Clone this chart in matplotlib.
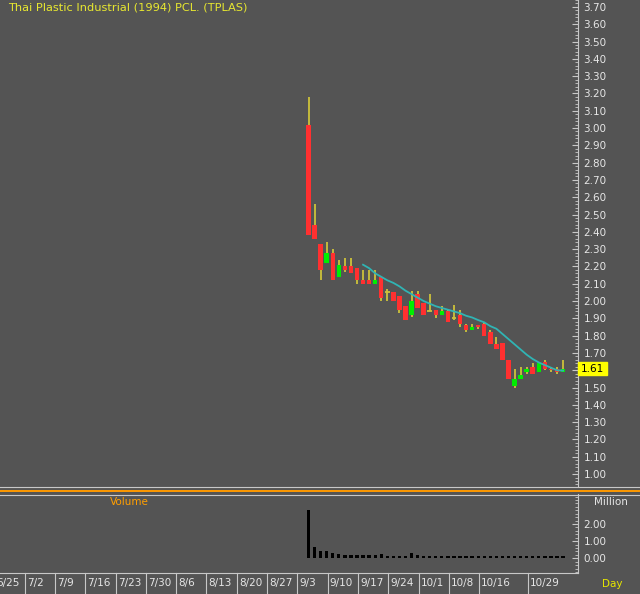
import numpy as np
import pandas as pd
import matplotlib
matplotlib.use("Agg")
import matplotlib.pyplot as plt
import matplotlib.transforms as mtransforms
from matplotlib.ticker import MultipleLocator, FormatStrFormatter
from matplotlib.lines import Line2D
from matplotlib.patches import Rectangle

# Data (TPLAS daily, price in Baht, volume in million shares)
title = "Thai Plastic Industrial (1994) PCL. (TPLAS)"
first_day = "2018-09-04"
holidays = ["2018-10-15", "2018-10-23"]

opens = [3.02, 2.44, 2.33, 2.22, 2.28, 2.14, 2.20, 2.20, 2.19, 2.12,
         2.12, 2.10, 2.14, 2.05, 2.05, 2.03, 1.97, 1.92, 2.04, 1.99,
         1.94, 1.95, 1.92, 1.94, 1.90, 1.92, 1.86, 1.83, 1.86, 1.87,
         1.82, 1.75, 1.76, 1.66, 1.51, 1.55, 1.59, 1.62, 1.59, 1.65,
         1.61, 1.61, 1.59]
highs = [3.18, 2.56, 2.33, 2.34, 2.30, 2.24, 2.25, 2.25, 2.19, 2.18,
         2.18, 2.18, 2.14, 2.07, 2.05, 2.03, 1.97, 2.06, 2.06, 1.99,
         2.04, 1.95, 1.97, 1.95, 1.98, 1.95, 1.87, 1.87, 1.86, 1.88,
         1.83, 1.79, 1.76, 1.66, 1.61, 1.62, 1.62, 1.64, 1.65, 1.66,
         1.62, 1.62, 1.66]
lows = [2.38, 2.36, 2.12, 2.22, 2.12, 2.14, 2.17, 2.16, 2.10, 2.10,
        2.10, 2.10, 2.00, 2.00, 2.00, 1.93, 1.89, 1.91, 1.96, 1.92,
        1.94, 1.90, 1.92, 1.88, 1.89, 1.85, 1.82, 1.83, 1.84, 1.80,
        1.75, 1.72, 1.66, 1.55, 1.50, 1.55, 1.58, 1.58, 1.59, 1.60,
        1.59, 1.58, 1.59]
closes = [2.38, 2.36, 2.18, 2.28, 2.12, 2.21, 2.18, 2.16, 2.12, 2.10,
          2.10, 2.12, 2.02, 2.05, 2.00, 1.95, 1.89, 2.00, 1.96, 1.92,
          1.94, 1.92, 1.94, 1.88, 1.90, 1.87, 1.83, 1.85, 1.85, 1.80,
          1.75, 1.72, 1.66, 1.55, 1.55, 1.57, 1.61, 1.58, 1.64, 1.61,
          1.60, 1.59, 1.61]
volume = [2.82, 0.68, 0.44, 0.44, 0.29, 0.25, 0.19, 0.22, 0.19, 0.19,
          0.19, 0.22, 0.25, 0.15, 0.13, 0.13, 0.13, 0.30, 0.20, 0.13,
          0.13, 0.12, 0.12, 0.12, 0.11, 0.13, 0.12, 0.11, 0.11, 0.12,
          0.12, 0.12, 0.12, 0.13, 0.12, 0.11, 0.11, 0.11, 0.11, 0.11,
          0.11, 0.11, 0.11]
# moving average line, starts at the 10th session
ma_line = [2.21, 2.19, 2.16, 2.14, 2.12, 2.105, 2.085, 2.06, 2.04, 2.02,
           2.00, 1.985, 1.97, 1.96, 1.95, 1.94, 1.93, 1.915, 1.905, 1.89,
           1.877, 1.855, 1.84, 1.81, 1.78, 1.75, 1.72, 1.69, 1.665, 1.645,
           1.63, 1.615, 1.60, 1.598]
last_price = "1.61"
week_labels = ["6/25", "7/2", "7/9", "7/16", "7/23", "7/30", "8/6", "8/13",
               "8/20", "8/27", "9/3", "9/10", "9/17", "9/24", "10/1", "10/8",
               "10/16", "10/29"]

BG = "#545454"
FG = "#e6e6e6"
LINE = "#c8c8c8"
UP = "#00ee00"
DOWN = "#ff3030"
WICK = "#cdc23a"

# trading slot calendar (weekdays, minus holidays after listing)
days = pd.bdate_range("2018-06-25", "2018-11-09")
days = days[~days.isin(pd.to_datetime(holidays))]
slot = {d: i for i, d in enumerate(days)}
start = slot[pd.Timestamp(first_day)]
x = np.arange(start, start + len(opens))
o, h, l, c = map(np.array, (opens, highs, lows, closes))

W, H = 640, 594
fig = plt.figure(figsize=(W / 100, H / 100), dpi=100, facecolor=BG)
ax = fig.add_axes([0, 1 - 486 / H, 578 / W, 486 / H], facecolor=BG)
axv = fig.add_axes([0, 1 - 573 / H, 578 / W, 79 / H], facecolor=BG, sharex=ax)

# candles
ax.vlines(x, l, h, color=WICK, lw=1.3, zorder=2)
up = c > o
down = c < o
ax.bar(x[up], (c - o)[up], bottom=o[up], width=0.74, color=UP, zorder=3)
ax.bar(x[down], (o - c)[down], bottom=c[down], width=0.74, color=DOWN, zorder=3)
doji = c == o
ax.hlines(c[doji], x[doji] - 0.37, x[doji] + 0.37, color=WICK, lw=1.3, zorder=3)
ax.plot(x[len(x) - len(ma_line):], ma_line, color="#30b4b4", lw=1.3, zorder=4)

ax.set_xlim(0.09, 95.47)
ax.set_ylim(0.931, 3.74)
ax.set_yticks(np.arange(1.0, 3.705, 0.1))
ax.yaxis.set_minor_locator(MultipleLocator(0.02))
ax.yaxis.set_major_formatter(FormatStrFormatter("%.2f"))

# last price tag
tr = mtransforms.blended_transform_factory(ax.transAxes, ax.transData)
ax.add_patch(Rectangle((1.0, float(last_price) - 0.035), 29 / 578, 0.07,
                       transform=tr, color="#ffff00", clip_on=False, zorder=5))
ax.text(1.0 + 14.5 / 578, float(last_price), last_price, transform=tr,
        ha="center", va="center", fontsize=7.5, color="black", zorder=6)

ax.text(8 / 578, 1 - 7 / 486, title, transform=ax.transAxes, ha="left",
        va="center", fontsize=8.2, color="#e8e830")

# volume
axv.bar(x, volume, width=0.55, color="black")
axv.set_ylim(-0.857, 3.75)
axv.set_yticks([0, 1, 2])
axv.yaxis.set_minor_locator(MultipleLocator(0.2))
axv.yaxis.set_major_formatter(FormatStrFormatter("%.2f"))
axv.text(129 / 578, 1 - 8 / 79, "Volume", transform=axv.transAxes,
         ha="center", va="center", fontsize=7.5, color="#ff9e00")

for a in (ax, axv):
    a.yaxis.tick_right()
    for s in ("left", "top", "bottom"):
        a.spines[s].set_visible(False)
    a.spines["right"].set_color(LINE)
    a.tick_params(axis="y", which="both", direction="in", colors=LINE,
                  labelcolor=FG, labelsize=7.5, pad=4)
    a.tick_params(axis="y", which="major", length=4)
    a.tick_params(axis="y", which="minor", length=2)
    a.tick_params(axis="x", which="both", bottom=False, labelbottom=False)
axv.spines["bottom"].set_visible(True)
axv.spines["bottom"].set_color(LINE)

# week separators and date labels
trv = mtransforms.blended_transform_factory(axv.transData, axv.transAxes)
for lab in week_labels:
    m, d = map(int, lab.split("/"))
    sx = slot[pd.Timestamp(2018, m, d)] - 0.85
    axv.plot([sx, sx], [0, -0.3], transform=trv, color=LINE, lw=0.8,
             clip_on=False)
    axv.text(sx + 0.35, -10 / 79, lab, transform=trv, ha="left", va="center",
             fontsize=7.5, color=FG, clip_on=False)

# panel divider lines
for yy, col, lw in ((486.5, LINE, 0.8), (490.5, "#ff9900", 1.4), (494.5, LINE, 0.8)):
    fig.add_artist(Line2D([0, 1], [1 - yy / H, 1 - yy / H],
                          transform=fig.transFigure, color=col, lw=lw))

fig.text(611 / W, 1 - 502 / H, "Million", ha="center", va="center",
         fontsize=7.5, color=FG)
fig.text(612 / W, 1 - 584 / H, "Day", ha="center", va="center",
         fontsize=7.5, color="#e6e600")

fig.savefig("out.png", dpi=100, facecolor=BG)
